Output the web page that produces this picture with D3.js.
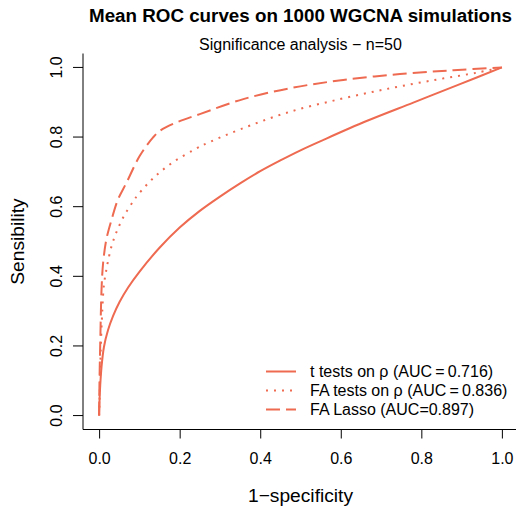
<!DOCTYPE html>
<html>
<head>
<meta charset="utf-8">
<script src="https://cdn.jsdelivr.net/npm/d3@7"></script>
<style>
  body { margin: 0; background: #fff; }
  svg { display: block; font-family: "Liberation Sans", Arial, sans-serif; }
</style>
</head>
<body>
<svg id="chart" width="516" height="507"></svg>
<script>
// ROC curves: x = 1-specificity, y = sensibility
const tTestX = [0, 0.002, 0.006, 0.012, 0.022, 0.035, 0.051, 0.072, 0.1, 0.15, 0.2, 0.25, 0.3, 0.35, 0.4, 0.45, 0.5, 0.557, 0.664, 0.78, 0.896, 1];
const tTestY = [0, 0.07, 0.14, 0.197, 0.245, 0.287, 0.327, 0.368, 0.413, 0.482, 0.54, 0.588, 0.629, 0.667, 0.702, 0.733, 0.762, 0.792, 0.846, 0.899, 0.952, 1];

const faTestX = [0, 0.002, 0.004, 0.008, 0.012, 0.018, 0.022, 0.032, 0.046, 0.064, 0.085, 0.097, 0.138, 0.184, 0.238, 0.275, 0.35, 0.466, 0.598, 0.722, 0.838, 0.938, 1];
const faTestY = [0, 0.083, 0.189, 0.304, 0.376, 0.419, 0.443, 0.491, 0.535, 0.578, 0.616, 0.635, 0.686, 0.728, 0.765, 0.786, 0.822, 0.87, 0.909, 0.94, 0.965, 0.985, 1];

const lassoX = [0, 0.001, 0.003, 0.006, 0.01, 0.018, 0.031, 0.047, 0.068, 0.101, 0.134, 0.151, 0.192, 0.25, 0.358, 0.482, 0.606, 0.747, 0.88, 1];
const lassoY = [0, 0.103, 0.218, 0.362, 0.439, 0.506, 0.563, 0.621, 0.669, 0.746, 0.799, 0.818, 0.842, 0.866, 0.909, 0.942, 0.964, 0.981, 0.992, 1];

const xTicks = [0, 0.2, 0.4, 0.6, 0.8, 1.0];
const yTicks = [0, 0.2, 0.4, 0.6, 0.8, 1.0];

const legendLabels = ["t tests on \u03c1 (AUC\u2009=\u20090.716)", "FA tests on \u03c1 (AUC\u2009=\u20090.836)", "FA Lasso (AUC=0.897)"];

const col = "#EE6A50";

const svg = d3.select("#chart");
const pLeft = 83, pRight = 518, pTop = 53.5, pBottom = 429.5;

const x = d3.scaleLinear().domain([-0.04, 1.04]).range([pLeft, pRight]);
const y = d3.scaleLinear().domain([-0.04, 1.04]).range([pBottom, pTop]);

// L-shaped box
svg.append("path")
    .attr("d", `M${pLeft},${pTop}V${pBottom}H${pRight}`)
    .attr("fill", "none")
    .attr("stroke", "#000")
    .attr("stroke-width", 1);

// axes
const xAxis = svg.append("g")
    .attr("transform", `translate(0,${pBottom})`)
    .call(d3.axisBottom(x).tickValues(xTicks).tickFormat(d3.format(".1f")).tickSize(9));
const yAxis = svg.append("g")
    .attr("transform", `translate(${pLeft},0)`)
    .call(d3.axisLeft(y).tickValues(yTicks).tickFormat(d3.format(".1f")).tickSize(10));
[xAxis, yAxis].forEach(g => {
    g.select(".domain").remove();
    g.selectAll("line").attr("stroke", "#000");
    g.selectAll("text").attr("font-size", 16).attr("fill", "#000").attr("font-family", null);
});
xAxis.selectAll(".tick text").attr("y", 34.5).attr("dy", null);
yAxis.selectAll(".tick").attr("transform", null);
yAxis.selectAll(".tick line").attr("transform", d => `translate(0,${y(d)})`);
yAxis.selectAll(".tick text")
    .attr("x", 0).attr("y", 0).attr("dy", null)
    .attr("text-anchor", "middle")
    .attr("transform", d => `translate(-21,${y(d)}) rotate(-90)`);

// titles
svg.append("text").attr("x", 300.5).attr("y", 22).attr("text-anchor", "middle")
    .attr("font-size", 18.8).attr("font-weight", "bold").text("Mean ROC curves on 1000 WGCNA simulations");
svg.append("text").attr("x", 300.5).attr("y", 50).attr("text-anchor", "middle")
    .attr("font-size", 16).text("Significance analysis \u2212 n=50");
svg.append("text").attr("x", 300.5).attr("y", 502).attr("text-anchor", "middle")
    .attr("font-size", 19.2).text("1\u2212specificity");
svg.append("text").attr("transform", "translate(24,241.5) rotate(-90)").attr("text-anchor", "middle")
    .attr("font-size", 19.2).text("Sensibility");

// curves
const series = [
    { xs: tTestX, ys: tTestY, dash: null },
    { xs: faTestX, ys: faTestY, dash: "2,6" },
    { xs: lassoX, ys: lassoY, dash: "14,6" }
];
const lineGen = d3.line().x(d => x(d[0])).y(d => y(d[1])).curve(d3.curveCatmullRom.alpha(0.5));
series.forEach(s => {
    svg.append("path")
        .datum(s.xs.map((v, i) => [v, s.ys[i]]))
        .attr("d", lineGen)
        .attr("fill", "none")
        .attr("stroke", col)
        .attr("stroke-width", 2)
        .attr("stroke-dasharray", s.dash);
});

// legend
const legend = svg.append("g");
series.forEach((s, i) => {
    const ly = 371.5 + i * 19;
    legend.append("line")
        .attr("x1", 266).attr("x2", 296).attr("y1", ly).attr("y2", ly)
        .attr("stroke", col).attr("stroke-width", 2)
        .attr("stroke-dasharray", s.dash);
    legend.append("text")
        .attr("x", 310).attr("y", ly + 5.5)
        .attr("font-size", 16)
        .text(legendLabels[i]);
});
</script>
</body>
</html>
